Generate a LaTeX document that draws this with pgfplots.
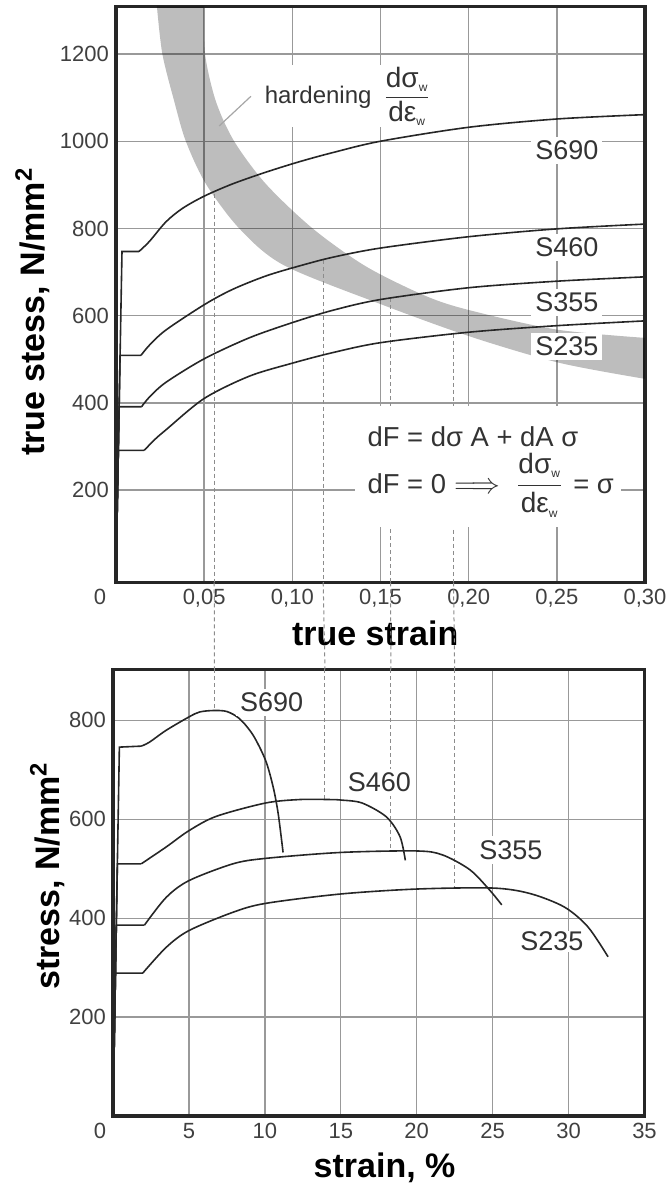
\documentclass[border=0pt]{standalone}
\usepackage{amsmath}
\usepackage[no-math]{fontspec}
\setmainfont{Liberation Sans}
\usepackage{pgfplots}
\pgfplotsset{compat=1.18}
\usepgfplotslibrary{fillbetween}

\tikzset{
  steel/.style={black!85, line width=0.8pt},
  guide/.style={black!45, line width=0.5pt, dash pattern=on 2pt off 1.5pt},
  lbl/.style={fill=white, inner sep=2pt, font=\fontsize{13.5}{15}\selectfont, text=black!80},
  note/.style={font=\fontsize{13.7}{16}\selectfont, text=black!80},
}
\pgfplotsset{
  panel/.style={
    scale only axis,
    grid=major,
    grid style={black!40, line width=0.7pt},
    axis line style={line width=1.6pt, black!85},
    major tick length=0pt,
    tick label style={font=\fontsize{11}{13}\selectfont, text=black!75},
    label style={font=\bfseries\fontsize{17}{19}\selectfont},
    /pgf/number format/assume math mode=true,
  },
}
% d sigma_w / d epsilon_w, set in the text font
\newcommand{\wsub}{\mbox{\fontsize{6}{7}\selectfont w}}
\newcommand{\hardfrac}{$\dfrac{\mbox{\fontsize{14}{16}\selectfont dσ}_{\wsub}}{\mbox{\fontsize{14}{16}\selectfont dε}_{\wsub}}$}

\begin{document}
\begin{tikzpicture}

% ---- true stress / true strain ----
\begin{axis}[panel,
    at={(58pt,301.25pt)}, anchor=south west,
    width=264.5pt, height=288pt,
    xmin=0, xmax=0.30, ymin=-12, ymax=1309,
    xtick={0,0.05,0.10,0.15,0.20,0.25,0.30},
    xticklabels={\makebox[0pt][r]{0\hspace{5pt}},{0,05},{0,10},{0,15},{0,20},{0,25},{0,30}},
    ytick={200,400,600,800,1000,1200},
    yticklabels={200,400,600,800,1000,1200},
    xlabel={true strain},
    ylabel={true stess, N/mm\textsuperscript{2}},
    xlabel style={at={(axis description cs:0.49,-0.089)}, anchor=center},
    ylabel style={at={(axis description cs:-0.158,0.47)}, anchor=center},
]
% hardening band
\addplot[name path=bandhi, draw=none, smooth] coordinates {
  (0.0500,1309) (0.0505,1200) (0.0566,1092) (0.0670,1000) (0.0850,902)
  (0.1115,800) (0.1417,713) (0.1757,645) (0.2009,612) (0.2500,568) (0.3000,549)};
\addplot[name path=bandlo, draw=none, smooth] coordinates {
  (0.0232,1309) (0.0263,1200) (0.0330,1092) (0.0396,1000) (0.0510,902)
  (0.0699,800) (0.0950,716) (0.1497,627) (0.2009,552) (0.2512,492) (0.3000,455)};
\addplot[fill=black, fill opacity=0.26, draw=none] fill between[of=bandhi and bandlo];

\draw[black!35, line width=0.6pt] (axis cs:0.0765,1103) -- (axis cs:0.0585,1035);

% guide lines
\draw[guide] (axis cs:0.0557,880) -- (axis cs:0.0557,-12);
\draw[guide] (axis cs:0.1175,728) -- (axis cs:0.1175,-12);
\draw[guide] (axis cs:0.1557,640) -- (axis cs:0.1557,-12);
\draw[guide] (axis cs:0.1914,558) -- (axis cs:0.1914,-12);
\coordinate (g1) at (axis cs:0.0557,-12);
\coordinate (g2) at (axis cs:0.1175,-12);
\coordinate (g3) at (axis cs:0.1557,-12);
\coordinate (g4) at (axis cs:0.1914,-12);

% S690
\addplot[steel] coordinates {(0,0) (0.0034,747) (0.0130,747)};
\addplot[steel, smooth] coordinates {
  (0.0130,747) (0.0189,770) (0.0283,815) (0.0377,846) (0.0500,874) (0.0660,902)
  (0.0850,929) (0.1040,953) (0.1230,974) (0.1500,1000) (0.2000,1032) (0.2500,1051) (0.3000,1061)};
% S460
\addplot[steel] coordinates {(0,0) (0.0023,509) (0.0142,509)};
\addplot[steel, smooth] coordinates {
  (0.0142,509) (0.0189,532) (0.0283,567) (0.0500,625) (0.0660,660) (0.0850,691)
  (0.1040,714) (0.1230,734) (0.1500,755) (0.2000,781) (0.2500,799) (0.3000,810)};
% S355
\addplot[steel] coordinates {(0,0) (0.0018,391) (0.0145,391)};
\addplot[steel, smooth] coordinates {
  (0.0145,391) (0.0189,413) (0.0283,447) (0.0500,501) (0.0755,549) (0.1000,584)
  (0.1227,612) (0.1500,637) (0.2000,664) (0.2500,679) (0.3000,689)};
% S235
\addplot[steel] coordinates {(0,0) (0.0013,291) (0.0160,291)};
\addplot[steel, smooth] coordinates {
  (0.0160,291) (0.0220,316) (0.0283,338) (0.0500,410) (0.0755,461) (0.1000,491)
  (0.1227,515) (0.1500,538) (0.2000,562) (0.2500,577) (0.3000,588)};

\node[lbl] at (axis cs:0.2557,979) {S690};
\node[lbl] at (axis cs:0.2557,756) {S460};
\node[lbl] at (axis cs:0.2557,630) {S355};
\node[lbl] at (axis cs:0.2557,530) {S235};

\node[note, anchor=west, fill=white, inner sep=1pt, font=\fontsize{12}{14}\selectfont]
  at (axis cs:0.0830,1103) {hardening\enspace\hardfrac};

\fill[white] (axis cs:0.1355,115) rectangle (axis cs:0.2866,392);
\node[note, anchor=west, inner sep=0pt] at (axis cs:0.1425,322) {dF = dσ A + dA σ};
\node[note, anchor=west, inner sep=0pt] at (axis cs:0.1425,211)
  {dF = 0\hspace{4pt}$\Longrightarrow$\hspace{8pt}\hardfrac\hspace{5pt}= σ};
\end{axis}

% ---- engineering stress / strain ----
\begin{axis}[panel,
    at={(56.5pt,34.5pt)}, anchor=south west,
    width=265.75pt, height=223.25pt,
    xmin=0, xmax=35, ymin=0, ymax=903,
    xtick={0,5,10,15,20,25,30,35},
    xticklabels={\makebox[0pt][r]{0\hspace{3.5pt}},5,10,15,20,25,30,35},
    ytick={200,400,600,800},
    yticklabels={200,400,600,800},
    xlabel={strain, \%},
    ylabel={stress, N/mm\textsuperscript{2}},
    xlabel style={at={(axis description cs:0.511,-0.1165)}, anchor=center},
    ylabel style={at={(axis description cs:-0.124,0.5375)}, anchor=center},
]
\draw[guide] (axis cs:6.68,903) -- (axis cs:6.68,820);
\draw[guide] (axis cs:13.96,903) -- (axis cs:13.96,640);
\draw[guide] (axis cs:18.30,903) -- (axis cs:18.30,536);
\draw[guide] (axis cs:22.50,903) -- (axis cs:22.50,460);
\coordinate (h1) at (axis cs:6.68,903);
\coordinate (h2) at (axis cs:13.96,903);
\coordinate (h3) at (axis cs:18.30,903);
\coordinate (h4) at (axis cs:22.50,903);

% S690
\addplot[steel] coordinates {(0,0) (0.42,746) (1.86,748)};
\addplot[steel, smooth] coordinates {
  (1.86,748) (2.4,756) (3.5,780) (5.0,807) (5.7,817) (6.6,820) (7.5,818)
  (8.35,803) (9.23,770) (10.05,719) (10.55,665) (10.88,611) (11.2,533)};
% S460
\addplot[steel] coordinates {(0,0) (0.29,510) (1.86,510)};
\addplot[steel, smooth] coordinates {
  (1.86,510) (3.5,544) (5.0,577) (6.8,606) (10.05,633) (12.3,640) (14.2,640)
  (15.0,639) (16.4,633) (18.0,605) (18.9,565) (19.25,517)};
% S355
\addplot[steel] coordinates {(0,0) (0.22,386) (2.07,386)};
\addplot[steel, smooth] coordinates {
  (2.07,386) (3.5,442) (5.0,476) (7.9,510) (10.05,521) (15.0,533) (20.0,536)
  (21.7,528) (23.5,498) (24.8,457) (25.6,427)};
% S235
\addplot[steel] coordinates {(0,0) (0.16,289) (1.96,289)};
\addplot[steel, smooth] coordinates {
  (1.96,289) (3.5,341) (5.0,375) (7.9,412) (10.05,430) (15.0,449) (20.0,459)
  (25.0,461) (27.45,450) (29.7,423) (31.26,383) (32.6,322)};

\node[lbl] at (axis cs:10.44,837) {S690};
\node[lbl] at (axis cs:17.54,675) {S460};
\node[lbl] at (axis cs:26.2,538) {S355};
\node[lbl, inner sep=0.5pt] at (axis cs:28.9,353) {S235};
\end{axis}

\draw[guide] (g1) -- (h1);
\draw[guide] (g2) -- (h2);
\draw[guide] (g3) -- (h3);
\draw[guide] (g4) -- (h4);

\pgfresetboundingbox
\path[use as bounding box] (0,0) rectangle (333pt,592.5pt);
\end{tikzpicture}
\end{document}
